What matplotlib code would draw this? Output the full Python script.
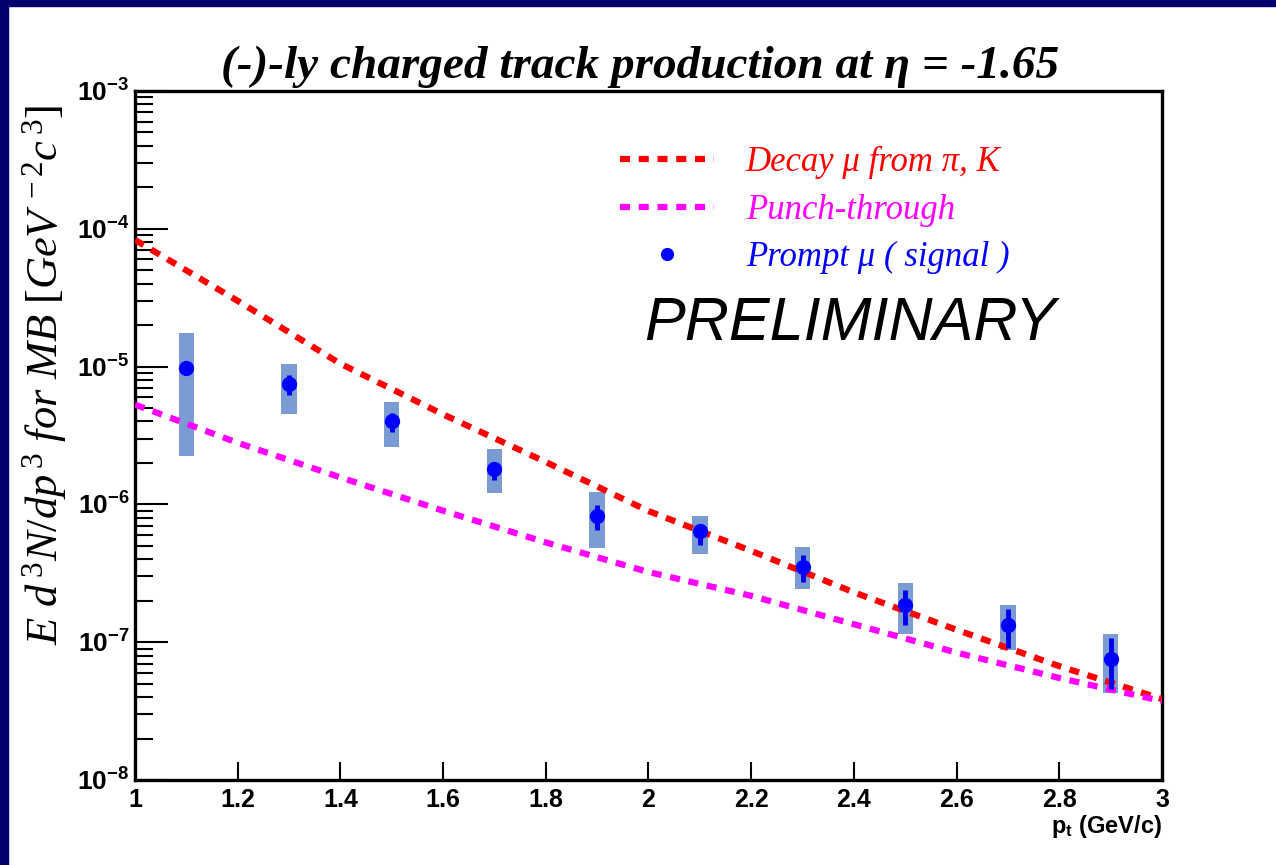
import numpy as np
import matplotlib
matplotlib.use("Agg")
import matplotlib.pyplot as plt
from matplotlib.patches import Rectangle
from matplotlib.ticker import FixedLocator, FuncFormatter, LogLocator, NullFormatter

plt.rcParams['mathtext.fontset'] = 'custom'
plt.rcParams['mathtext.rm'] = 'Liberation Serif'
plt.rcParams['mathtext.it'] = 'Liberation Serif:italic'
plt.rcParams['mathtext.bf'] = 'Liberation Sans:bold'

# prompt muon points (pt bin centres)
pt = [1.1, 1.3, 1.5, 1.7, 1.9, 2.1, 2.3, 2.5, 2.7, 2.9]
prompt = [9.7e-6, 7.5e-6, 4.0e-6, 1.8e-6, 8.2e-7, 6.4e-7, 3.5e-7, 1.85e-7, 1.33e-7, 7.6e-8]
stat_hi = [1.05e-5, 8.7e-6, 4.6e-6, 2.03e-6, 9.9e-7, 7.2e-7, 4.3e-7, 2.39e-7, 1.74e-7, 1.07e-7]
stat_lo = [8.9e-6, 6.2e-6, 3.35e-6, 1.5e-6, 6.5e-7, 5.07e-7, 2.73e-7, 1.33e-7, 9.1e-8, 4.6e-8]
sys_hi = [1.74e-5, 1.05e-5, 5.5e-6, 2.54e-6, 1.22e-6, 8.3e-7, 4.87e-7, 2.71e-7, 1.87e-7, 1.14e-7]
sys_lo = [2.26e-6, 4.56e-6, 2.63e-6, 1.2e-6, 4.8e-7, 4.4e-7, 2.45e-7, 1.14e-7, 8.8e-8, 4.3e-8]

# background curves
pt_curve = [1.0, 1.2, 1.4, 1.6, 1.8, 2.0, 2.2, 2.4, 2.6, 2.8, 3.0]
decay = [8.3e-5, 3.0e-5, 1.05e-5, 4.5e-6, 2.03e-6, 8.95e-7, 4.6e-7, 2.3e-7, 1.23e-7, 6.7e-8, 3.87e-8]
punch = [5.3e-6, 2.8e-6, 1.57e-6, 9.0e-7, 5.3e-7, 3.23e-7, 2.17e-7, 1.35e-7, 8.4e-8, 5.5e-8, 3.74e-8]

fig = plt.figure(figsize=(12.76, 8.65), dpi=100)
fig.patch.set_facecolor('white')
# navy slide border
fig.patches.append(Rectangle((0, 1 - 6 / 865), 1, 6 / 865, transform=fig.transFigure,
                             color='#00006e', zorder=-5))
fig.patches.append(Rectangle((0, 0), 8 / 1276, 1, transform=fig.transFigure,
                             color='#00006e', zorder=-5))

ax = fig.add_axes([135 / 1276, 1 - 780 / 865, (1162 - 135) / 1276, (780 - 91) / 865])
ax.set_yscale('log')
ax.set_xlim(1, 3)
ax.set_ylim(1e-8, 1e-3)

d_line, = ax.plot(pt_curve, decay, color='#ff0000', lw=4.5, ls=(0, (1.6, 1.4)),
                  label='Decay \u03bc from \u03c0, K', zorder=3)
p_line, = ax.plot(pt_curve, punch, color='#ff00ff', lw=4.5, ls=(0, (1.6, 1.4)),
                  label='Punch-through', zorder=3)

lo = np.array(sys_lo)
hi = np.array(sys_hi)
ax.bar(pt, hi - lo, bottom=lo, width=0.03, color='#7b9bd3', zorder=2)
y = np.array(prompt)
ax.errorbar(pt, prompt, yerr=[y - np.array(stat_lo), np.array(stat_hi) - y], fmt='none',
            ecolor='#0000ee', elinewidth=3.5, capsize=0, zorder=4)
m_pts, = ax.plot(pt, prompt, 'o', color='#0000ff', ms=10, ls='none',
                 label='Prompt \u03bc ( signal )', zorder=5)

# axes style
for s in ax.spines.values():
    s.set_linewidth(2.4)
ax.xaxis.set_major_locator(FixedLocator(np.arange(1.0, 3.01, 0.2)))
ax.xaxis.set_major_formatter(FuncFormatter(lambda v, p: '%g' % round(v, 1)))
ax.yaxis.set_major_locator(LogLocator(base=10, numticks=10))
ax.yaxis.set_minor_locator(LogLocator(base=10, subs=np.arange(2, 10), numticks=20))
ax.yaxis.set_minor_formatter(NullFormatter())
ax.yaxis.set_major_formatter(FuncFormatter(lambda v, p: r'$\mathbf{10^{%d}}$' % round(np.log10(v))))
ax.tick_params(axis='x', which='major', direction='in', length=13, width=1.5, pad=6,
               labelsize=18)
ax.tick_params(axis='y', which='major', direction='in', length=24, width=1.5, pad=4,
               labelsize=19)
ax.tick_params(axis='y', which='minor', direction='in', length=13, width=1.5)
for lab in ax.get_xticklabels():
    lab.set_fontfamily('Liberation Sans')
    lab.set_fontweight('bold')

fig.text(640 / 1276, 1 - 67 / 865, '(-)-ly charged track production at \u03b7 = -1.65',
         ha='center', va='center', family='Liberation Serif', style='italic',
         weight='bold', fontsize=34)
fig.text(45 / 1276, 1 - 375 / 865,
         r'$\mathit{E\ d^{\,3}N/dp^{\,3}\ for\ MB\ [GeV^{\,-2}c^{\,3}]}$',
         rotation=90, ha='center', va='center', fontsize=32)
fig.text(1162 / 1276, 1 - 826 / 865, r'$\mathbf{p_{t}}$ (GeV/c)', ha='right', va='center',
         family='Liberation Sans', weight='bold', fontsize=17)

leg = ax.legend(handles=[d_line, p_line, m_pts], loc='upper left',
                bbox_to_anchor=(620 / 1276, 1 - 146 / 865), bbox_transform=fig.transFigure,
                frameon=False, borderpad=0, borderaxespad=0, handlelength=2.7,
                handletextpad=0.92, labelspacing=0.42, markerscale=0.85,
                prop={'family': 'Liberation Serif', 'style': 'italic', 'size': 25})
for txt, c in zip(leg.get_texts(), ['#ff0000', '#ff00ff', '#0000ff']):
    txt.set_color(c)

fig.text(850 / 1276, 1 - 325 / 865, 'PRELIMINARY', ha='center', va='center',
         family='Liberation Sans', style='italic', fontsize=44)

fig.savefig('out.png', dpi=100, facecolor='white')
